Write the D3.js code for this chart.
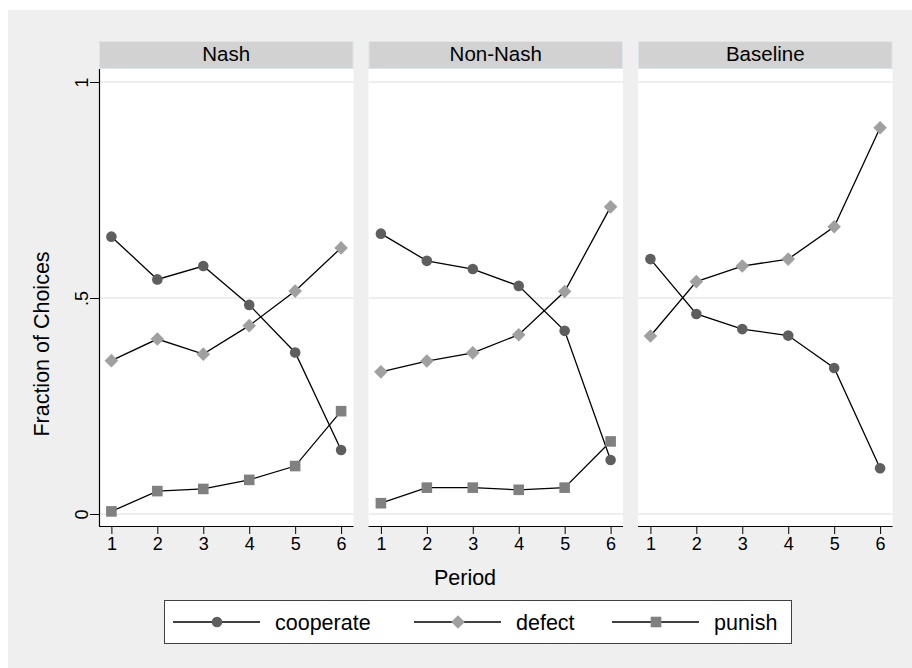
<!DOCTYPE html>
<html><head><meta charset="utf-8">
<script src="https://cdn.jsdelivr.net/npm/d3@7"></script>
<style>html,body{margin:0;padding:0;background:#fff;}svg{display:block;font-family:"Liberation Sans",Arial,sans-serif;}</style>
</head><body>
<script>
const panels = ["Nash", "Non-Nash", "Baseline"];
const periods = [1, 2, 3, 4, 5, 6];
const seriesNames = ["cooperate", "defect", "punish"];
// values per panel (Nash, Non-Nash, Baseline)
const cooperate = [
  [0.642, 0.543, 0.574, 0.484, 0.374, 0.148],
  [0.649, 0.586, 0.567, 0.528, 0.424, 0.125],
  [0.590, 0.463, 0.428, 0.413, 0.338, 0.106]
];
const defect = [
  [0.355, 0.405, 0.370, 0.436, 0.516, 0.616],
  [0.329, 0.354, 0.373, 0.415, 0.515, 0.711],
  [0.412, 0.538, 0.574, 0.590, 0.665, 0.894]
];
const punish = [
  [0.006, 0.053, 0.058, 0.079, 0.111, 0.238],
  [0.025, 0.061, 0.061, 0.056, 0.061, 0.168],
  null
];
const yTicks = [0, 0.5, 1];
const yTickLabels = ["0", ".5", "1"];

const W = 912, H = 668;
const svg = d3.select("body").append("svg").attr("width", W).attr("height", H);
svg.append("rect").attr("x", 8).attr("y", 10).attr("width", W - 8).attr("height", H - 10).attr("fill", "#efefef");

const plotTop = 69, plotBottom = 526;
const panelW = 254.5, panelStep = 269.5, firstLeft = 99;
const y = d3.scaleLinear().domain([0, 1]).range([514, 82]);

const colors = {cooperate: "#5e5e5e", defect: "#a0a0a0", punish: "#808080"};
const seriesData = {cooperate, defect, punish};

function drawMarker(g, name, cx, cy, scale = 1) {
  if (name === "cooperate") {
    g.append("circle").attr("cx", cx).attr("cy", cy).attr("r", 5.3 * scale).attr("fill", colors.cooperate);
  } else if (name === "defect") {
    const s = 6.8 * scale;
    g.append("path").attr("d", `M${cx},${cy - s}L${cx + s},${cy}L${cx},${cy + s}L${cx - s},${cy}Z`).attr("fill", colors.defect);
  } else {
    const s = 5.3 * scale;
    g.append("rect").attr("x", cx - s).attr("y", cy - s).attr("width", 2 * s).attr("height", 2 * s).attr("fill", colors.punish);
  }
}

panels.forEach((pname, i) => {
  const left = firstLeft + i * panelStep;
  const x = d3.scaleLinear().domain([0.73, 6.27]).range([left, left + panelW]);
  const g = svg.append("g");
  // plot region
  g.append("rect").attr("x", left).attr("y", plotTop).attr("width", panelW).attr("height", plotBottom - plotTop).attr("fill", "#fff");
  // header
  g.append("rect").attr("x", left + 0.5).attr("y", 41.5).attr("width", panelW - 1).attr("height", 27)
    .attr("fill", "#d2d2d2").attr("stroke", "#dde6ea").attr("stroke-width", 1);
  g.append("text").attr("x", left + panelW / 2).attr("y", 61).attr("text-anchor", "middle")
    .attr("font-size", 20.5).attr("fill", "#000").text(pname);
  // gridlines
  yTicks.forEach(t => {
    g.append("line").attr("x1", left).attr("x2", left + panelW).attr("y1", y(t)).attr("y2", y(t))
      .attr("stroke", "#e8e8e8").attr("stroke-width", 1.5);
  });
  // x axis
  const xAxis = d3.axisBottom(x).tickValues(periods).tickSize(8).tickPadding(3).tickFormat(d3.format("d"));
  const ax = g.append("g").attr("transform", `translate(0,${plotBottom})`).call(xAxis);
  ax.select(".domain").attr("d", `M${left},0.5H${left + panelW}`).attr("stroke", "#000").attr("stroke-width", 1.2);
  ax.selectAll(".tick line").attr("stroke", "#000").attr("stroke-width", 1);
  ax.selectAll(".tick text").attr("font-size", 18).attr("fill", "#000").attr("font-family", "Liberation Sans, Arial, sans-serif");

  // y axis on first panel
  if (i === 0) {
    const yAxis = d3.axisLeft(y).tickValues(yTicks).tickSize(9).tickFormat((d, k) => yTickLabels[k]);
    const ay = svg.append("g").attr("transform", `translate(${left},0)`).call(yAxis);
    ay.select(".domain").attr("d", `M0.5,${plotTop}V${plotBottom}`).attr("stroke", "#000").attr("stroke-width", 1.2);
    ay.selectAll(".tick line").attr("stroke", "#000");
    ay.selectAll(".tick text").attr("font-size", 18).attr("fill", "#000")
      .attr("font-family", "Liberation Sans, Arial, sans-serif")
      .attr("x", null).attr("dy", null).attr("text-anchor", "middle")
      .attr("transform", "translate(-11,0) rotate(-90)");
  }

  // series
  seriesNames.forEach(sn => {
    const vals = seriesData[sn][i];
    if (!vals) return;
    const pts = periods.map((p, k) => [x(p), y(vals[k])]);
    g.append("path").attr("d", d3.line()(pts)).attr("fill", "none").attr("stroke", "#000").attr("stroke-width", 1.3);
    pts.forEach(([cx, cy]) => drawMarker(g, sn, cx, cy));
  });
});

// axis titles
svg.append("text").attr("x", 465).attr("y", 585).attr("text-anchor", "middle").attr("font-size", 21.5).attr("fill", "#000").text("Period");
svg.append("text").attr("transform", "translate(49,344) rotate(-90)").attr("text-anchor", "middle").attr("font-size", 21.5).attr("fill", "#000").text("Fraction of Choices");

// legend
const lg = svg.append("g");
lg.append("rect").attr("x", 164.5).attr("y", 600.5).attr("width", 627).attr("height", 43).attr("fill", "#fff").attr("stroke", "#404040").attr("stroke-width", 1);
const legendX = [173, 414, 612];
seriesNames.forEach((sn, k) => {
  const x0 = legendX[k];
  lg.append("line").attr("x1", x0).attr("x2", x0 + 87).attr("y1", 622).attr("y2", 622).attr("stroke", "#000").attr("stroke-width", 1.3);
  drawMarker(lg, sn, x0 + 44, 622);
  lg.append("text").attr("x", x0 + 102).attr("y", 630).attr("font-size", 21.5).attr("fill", "#000").text(sn);
});
</script>
</body></html>
